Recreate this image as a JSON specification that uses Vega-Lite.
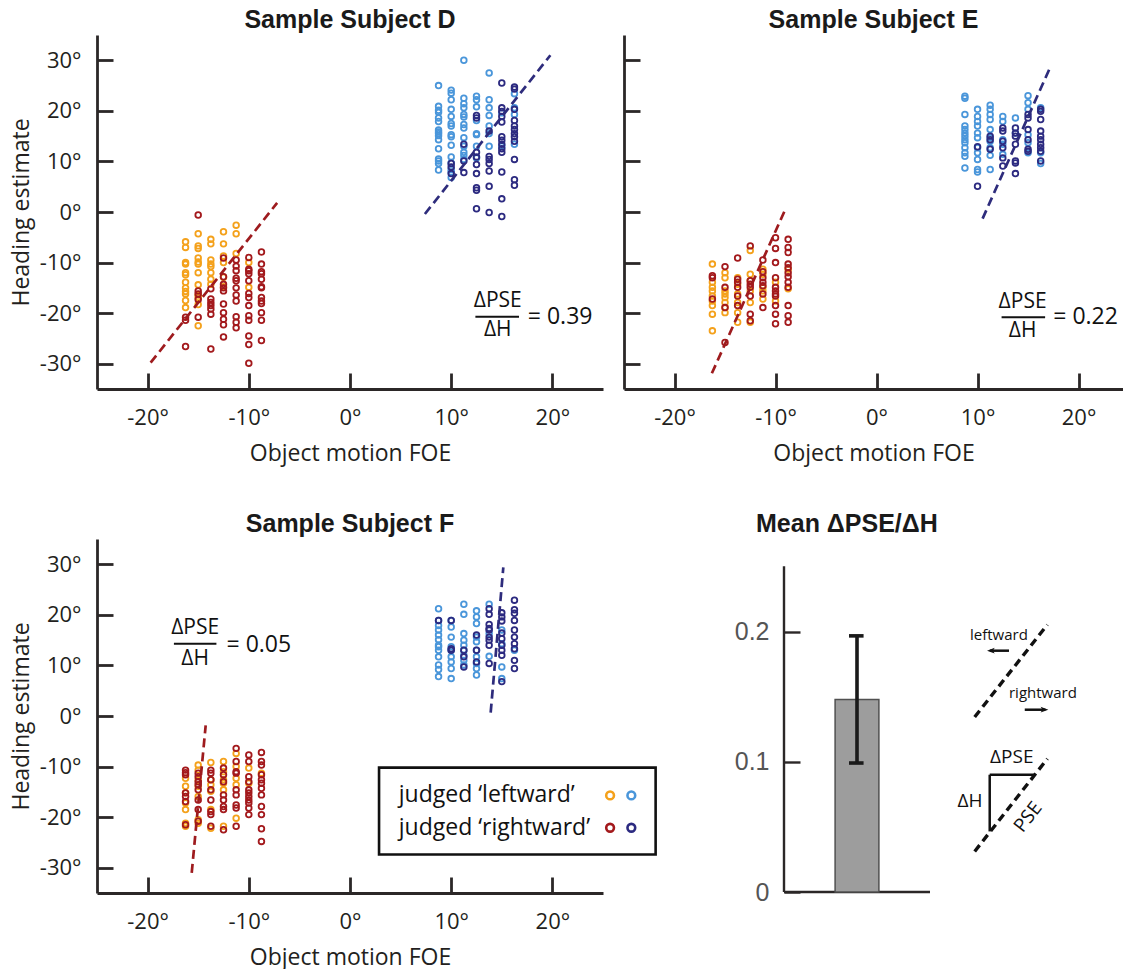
{
"$schema": "https://vega.github.io/schema/vega-lite/v6.json",
"background": "white",
"padding": {"left": 10, "top": 8, "right": 0, "bottom": 0},
"config": {
  "view": {"stroke": null},
  "axis": {"grid": false, "domainColor": "#2b2727", "domainWidth": 2.8, "tickColor": "#2b2727", "tickWidth": 2.8, "tickSize": -16, "labelFont": "Open Sans", "labelFontSize": 22, "labelColor": "#231f20", "titleFont": "Open Sans", "titleFontSize": 23, "titleFontWeight": "normal", "titleColor": "#231f20", "labelPadding": 32, "labelFlush": false},
  "axisX": {"labelPadding": 34, "titlePadding": 14},
  "axisY": {"titlePadding": 6},
  "title": {"font": "Liberation Sans", "fontSize": 25, "fontWeight": "bold", "color": "#1a1a1a", "frame": "group", "offset": 2, "baseline": "alphabetic"}
},
"datasets": {
  "pts": [
    {"p":"D","g":"lo","x":-16.25,"y":-5.9},{"p":"D","g":"lo","x":-16.25,"y":-7.0},{"p":"D","g":"lo","x":-16.25,"y":-10.0},{"p":"D","g":"lo","x":-16.25,"y":-10.3},{"p":"D","g":"lo","x":-16.25,"y":-12.0},{"p":"D","g":"lo","x":-16.25,"y":-12.4},{"p":"D","g":"lo","x":-16.25,"y":-13.9},{"p":"D","g":"lo","x":-16.25,"y":-15.0},{"p":"D","g":"lo","x":-16.25,"y":-15.7},{"p":"D","g":"lo","x":-16.25,"y":-16.2},{"p":"D","g":"lo","x":-16.25,"y":-17.5},{"p":"D","g":"lo","x":-16.25,"y":-18.9},
    {"p":"D","g":"lo","x":-15,"y":-4.3},{"p":"D","g":"lo","x":-15,"y":-6.7},{"p":"D","g":"lo","x":-15,"y":-7.2},{"p":"D","g":"lo","x":-15,"y":-9.1},{"p":"D","g":"lo","x":-15,"y":-9.9},{"p":"D","g":"lo","x":-15,"y":-10.3},{"p":"D","g":"lo","x":-15,"y":-12.0},{"p":"D","g":"lo","x":-15,"y":-14.4},{"p":"D","g":"lo","x":-15,"y":-16.4},{"p":"D","g":"lo","x":-15,"y":-16.9},{"p":"D","g":"lo","x":-15,"y":-18.3},{"p":"D","g":"lo","x":-15,"y":-22.5},
    {"p":"D","g":"lo","x":-13.75,"y":-5.4},{"p":"D","g":"lo","x":-13.75,"y":-6.3},{"p":"D","g":"lo","x":-13.75,"y":-9.5},{"p":"D","g":"lo","x":-13.75,"y":-10.3},{"p":"D","g":"lo","x":-13.75,"y":-10.8},{"p":"D","g":"lo","x":-13.75,"y":-12.0},{"p":"D","g":"lo","x":-13.75,"y":-13.3},{"p":"D","g":"lo","x":-13.75,"y":-14.3},
    {"p":"D","g":"lo","x":-12.5,"y":-3.9},{"p":"D","g":"lo","x":-12.5,"y":-6.3},{"p":"D","g":"lo","x":-12.5,"y":-8.7},{"p":"D","g":"lo","x":-12.5,"y":-10.0},{"p":"D","g":"lo","x":-12.5,"y":-12.9},{"p":"D","g":"lo","x":-12.5,"y":-14.8},
    {"p":"D","g":"lo","x":-11.25,"y":-2.6},{"p":"D","g":"lo","x":-11.25,"y":-4.3},{"p":"D","g":"lo","x":-11.25,"y":-8.2},
    {"p":"D","g":"lo","x":-10,"y":-10.0},{"p":"D","g":"lo","x":-10,"y":-14.9},
    {"p":"D","g":"ro","x":-16.25,"y":-20.8},{"p":"D","g":"ro","x":-16.25,"y":-21.4},{"p":"D","g":"ro","x":-16.25,"y":-26.6},
    {"p":"D","g":"ro","x":-15,"y":-0.6},{"p":"D","g":"ro","x":-15,"y":-15.6},{"p":"D","g":"ro","x":-15,"y":-16.2},{"p":"D","g":"ro","x":-15,"y":-17.3},{"p":"D","g":"ro","x":-15,"y":-20.8},
    {"p":"D","g":"ro","x":-13.75,"y":-15.2},{"p":"D","g":"ro","x":-13.75,"y":-17.2},{"p":"D","g":"ro","x":-13.75,"y":-17.9},{"p":"D","g":"ro","x":-13.75,"y":-18.5},{"p":"D","g":"ro","x":-13.75,"y":-19.2},{"p":"D","g":"ro","x":-13.75,"y":-20.2},{"p":"D","g":"ro","x":-13.75,"y":-27.1},
    {"p":"D","g":"ro","x":-12.5,"y":-9.1},{"p":"D","g":"ro","x":-12.5,"y":-12.8},{"p":"D","g":"ro","x":-12.5,"y":-14.3},{"p":"D","g":"ro","x":-12.5,"y":-15.0},{"p":"D","g":"ro","x":-12.5,"y":-15.6},{"p":"D","g":"ro","x":-12.5,"y":-18.2},{"p":"D","g":"ro","x":-12.5,"y":-19.9},{"p":"D","g":"ro","x":-12.5,"y":-21.2},{"p":"D","g":"ro","x":-12.5,"y":-22.3},{"p":"D","g":"ro","x":-12.5,"y":-24.7},
    {"p":"D","g":"ro","x":-11.25,"y":-9.5},{"p":"D","g":"ro","x":-11.25,"y":-10.7},{"p":"D","g":"ro","x":-11.25,"y":-11.6},{"p":"D","g":"ro","x":-11.25,"y":-13.1},{"p":"D","g":"ro","x":-11.25,"y":-13.6},{"p":"D","g":"ro","x":-11.25,"y":-15.0},{"p":"D","g":"ro","x":-11.25,"y":-16.4},{"p":"D","g":"ro","x":-11.25,"y":-17.6},{"p":"D","g":"ro","x":-11.25,"y":-20.7},{"p":"D","g":"ro","x":-11.25,"y":-21.8},{"p":"D","g":"ro","x":-11.25,"y":-22.9},
    {"p":"D","g":"ro","x":-10,"y":-9.0},{"p":"D","g":"ro","x":-10,"y":-11.3},{"p":"D","g":"ro","x":-10,"y":-11.6},{"p":"D","g":"ro","x":-10,"y":-12.2},{"p":"D","g":"ro","x":-10,"y":-13.6},{"p":"D","g":"ro","x":-10,"y":-16.1},{"p":"D","g":"ro","x":-10,"y":-16.9},{"p":"D","g":"ro","x":-10,"y":-18.5},{"p":"D","g":"ro","x":-10,"y":-20.5},{"p":"D","g":"ro","x":-10,"y":-21.4},{"p":"D","g":"ro","x":-10,"y":-24.5},{"p":"D","g":"ro","x":-10,"y":-26.2},{"p":"D","g":"ro","x":-10,"y":-29.9},
    {"p":"D","g":"ro","x":-8.75,"y":-7.9},{"p":"D","g":"ro","x":-8.75,"y":-10.3},{"p":"D","g":"ro","x":-8.75,"y":-11.8},{"p":"D","g":"ro","x":-8.75,"y":-12.2},{"p":"D","g":"ro","x":-8.75,"y":-13.3},{"p":"D","g":"ro","x":-8.75,"y":-14.8},{"p":"D","g":"ro","x":-8.75,"y":-15.0},{"p":"D","g":"ro","x":-8.75,"y":-16.9},{"p":"D","g":"ro","x":-8.75,"y":-17.6},{"p":"D","g":"ro","x":-8.75,"y":-18.1},{"p":"D","g":"ro","x":-8.75,"y":-19.9},{"p":"D","g":"ro","x":-8.75,"y":-21.4},{"p":"D","g":"ro","x":-8.75,"y":-25.4},
    {"p":"D","g":"lb","x":8.75,"y":25.0},{"p":"D","g":"lb","x":8.75,"y":20.9},{"p":"D","g":"lb","x":8.75,"y":20.1},{"p":"D","g":"lb","x":8.75,"y":19.7},{"p":"D","g":"lb","x":8.75,"y":18.6},{"p":"D","g":"lb","x":8.75,"y":17.9},{"p":"D","g":"lb","x":8.75,"y":16.2},{"p":"D","g":"lb","x":8.75,"y":15.8},{"p":"D","g":"lb","x":8.75,"y":15.5},{"p":"D","g":"lb","x":8.75,"y":15.1},{"p":"D","g":"lb","x":8.75,"y":14.3},{"p":"D","g":"lb","x":8.75,"y":12.5},{"p":"D","g":"lb","x":8.75,"y":10.5},{"p":"D","g":"lb","x":8.75,"y":10.1},{"p":"D","g":"lb","x":8.75,"y":9.6},{"p":"D","g":"lb","x":8.75,"y":8.3},
    {"p":"D","g":"lb","x":10,"y":24.1},{"p":"D","g":"lb","x":10,"y":23.5},{"p":"D","g":"lb","x":10,"y":22.2},{"p":"D","g":"lb","x":10,"y":20.3},{"p":"D","g":"lb","x":10,"y":18.9},{"p":"D","g":"lb","x":10,"y":17.5},{"p":"D","g":"lb","x":10,"y":17.0},{"p":"D","g":"lb","x":10,"y":15.3},{"p":"D","g":"lb","x":10,"y":14.9},{"p":"D","g":"lb","x":10,"y":13.2},{"p":"D","g":"lb","x":10,"y":10.9},{"p":"D","g":"lb","x":10,"y":9.7},{"p":"D","g":"lb","x":10,"y":8.4},{"p":"D","g":"lb","x":10,"y":7.9},{"p":"D","g":"lb","x":10,"y":6.8},
    {"p":"D","g":"lb","x":11.25,"y":30.0},{"p":"D","g":"lb","x":11.25,"y":22.5},{"p":"D","g":"lb","x":11.25,"y":21.4},{"p":"D","g":"lb","x":11.25,"y":20.6},{"p":"D","g":"lb","x":11.25,"y":19.3},{"p":"D","g":"lb","x":11.25,"y":18.8},{"p":"D","g":"lb","x":11.25,"y":17.3},{"p":"D","g":"lb","x":11.25,"y":16.6},{"p":"D","g":"lb","x":11.25,"y":14.7},{"p":"D","g":"lb","x":11.25,"y":13.0},{"p":"D","g":"lb","x":11.25,"y":11.8},{"p":"D","g":"lb","x":11.25,"y":11.2},{"p":"D","g":"lb","x":11.25,"y":10.4},
    {"p":"D","g":"lb","x":12.5,"y":22.9},{"p":"D","g":"lb","x":12.5,"y":22.2},{"p":"D","g":"lb","x":12.5,"y":20.8},{"p":"D","g":"lb","x":12.5,"y":18.1},{"p":"D","g":"lb","x":12.5,"y":15.5},{"p":"D","g":"lb","x":12.5,"y":15.3},{"p":"D","g":"lb","x":12.5,"y":13.0},{"p":"D","g":"lb","x":12.5,"y":10.7},
    {"p":"D","g":"lb","x":13.75,"y":27.5},{"p":"D","g":"lb","x":13.75,"y":22.2},{"p":"D","g":"lb","x":13.75,"y":20.6},{"p":"D","g":"lb","x":13.75,"y":19.1},{"p":"D","g":"lb","x":13.75,"y":17.0},{"p":"D","g":"lb","x":13.75,"y":15.5},{"p":"D","g":"lb","x":13.75,"y":13.0},
    {"p":"D","g":"lb","x":15,"y":19.6},{"p":"D","g":"lb","x":15,"y":13.0},
    {"p":"D","g":"lb","x":16.25,"y":23.4},{"p":"D","g":"lb","x":16.25,"y":20.6},{"p":"D","g":"lb","x":16.25,"y":19.3},{"p":"D","g":"lb","x":16.25,"y":13.4},
    {"p":"D","g":"rb","x":10,"y":9.6},{"p":"D","g":"rb","x":10,"y":8.9},{"p":"D","g":"rb","x":10,"y":7.6},
    {"p":"D","g":"rb","x":11.25,"y":13.4},{"p":"D","g":"rb","x":11.25,"y":10.1},{"p":"D","g":"rb","x":11.25,"y":7.8},
    {"p":"D","g":"rb","x":12.5,"y":19.1},{"p":"D","g":"rb","x":12.5,"y":18.6},{"p":"D","g":"rb","x":12.5,"y":11.8},{"p":"D","g":"rb","x":12.5,"y":10.9},{"p":"D","g":"rb","x":12.5,"y":9.4},{"p":"D","g":"rb","x":12.5,"y":7.6},{"p":"D","g":"rb","x":12.5,"y":4.8},{"p":"D","g":"rb","x":12.5,"y":4.3},{"p":"D","g":"rb","x":12.5,"y":0.65},
    {"p":"D","g":"rb","x":13.75,"y":16.0},{"p":"D","g":"rb","x":13.75,"y":11.0},{"p":"D","g":"rb","x":13.75,"y":10.4},{"p":"D","g":"rb","x":13.75,"y":9.6},{"p":"D","g":"rb","x":13.75,"y":8.1},{"p":"D","g":"rb","x":13.75,"y":5.1},{"p":"D","g":"rb","x":13.75,"y":-0.1},
    {"p":"D","g":"rb","x":15,"y":25.5},{"p":"D","g":"rb","x":15,"y":20.6},{"p":"D","g":"rb","x":15,"y":19.9},{"p":"D","g":"rb","x":15,"y":18.9},{"p":"D","g":"rb","x":15,"y":17.8},{"p":"D","g":"rb","x":15,"y":14.9},{"p":"D","g":"rb","x":15,"y":14.2},{"p":"D","g":"rb","x":15,"y":13.4},{"p":"D","g":"rb","x":15,"y":12.5},{"p":"D","g":"rb","x":15,"y":11.8},{"p":"D","g":"rb","x":15,"y":7.9},{"p":"D","g":"rb","x":15,"y":2.6},{"p":"D","g":"rb","x":15,"y":-0.9},
    {"p":"D","g":"rb","x":16.25,"y":24.7},{"p":"D","g":"rb","x":16.25,"y":24.3},{"p":"D","g":"rb","x":16.25,"y":20.3},{"p":"D","g":"rb","x":16.25,"y":18.1},{"p":"D","g":"rb","x":16.25,"y":17.0},{"p":"D","g":"rb","x":16.25,"y":16.3},{"p":"D","g":"rb","x":16.25,"y":15.5},{"p":"D","g":"rb","x":16.25,"y":14.9},{"p":"D","g":"rb","x":16.25,"y":14.0},{"p":"D","g":"rb","x":16.25,"y":10.4},{"p":"D","g":"rb","x":16.25,"y":6.4},{"p":"D","g":"rb","x":16.25,"y":5.3},

    {"p":"E","g":"lo","x":-16.25,"y":-10.3},{"p":"E","g":"lo","x":-16.25,"y":-13.9},{"p":"E","g":"lo","x":-16.25,"y":-14.9},{"p":"E","g":"lo","x":-16.25,"y":-15.6},{"p":"E","g":"lo","x":-16.25,"y":-16.6},{"p":"E","g":"lo","x":-16.25,"y":-17.6},{"p":"E","g":"lo","x":-16.25,"y":-18.5},{"p":"E","g":"lo","x":-16.25,"y":-20.2},{"p":"E","g":"lo","x":-16.25,"y":-23.5},
    {"p":"E","g":"lo","x":-15,"y":-12.0},{"p":"E","g":"lo","x":-15,"y":-13.0},{"p":"E","g":"lo","x":-15,"y":-15.6},{"p":"E","g":"lo","x":-15,"y":-16.2},{"p":"E","g":"lo","x":-15,"y":-16.9},{"p":"E","g":"lo","x":-15,"y":-17.9},{"p":"E","g":"lo","x":-15,"y":-18.9},{"p":"E","g":"lo","x":-15,"y":-19.9},
    {"p":"E","g":"lo","x":-13.75,"y":-13.0},{"p":"E","g":"lo","x":-13.75,"y":-14.3},{"p":"E","g":"lo","x":-13.75,"y":-16.2},{"p":"E","g":"lo","x":-13.75,"y":-17.9},{"p":"E","g":"lo","x":-13.75,"y":-19.9},{"p":"E","g":"lo","x":-13.75,"y":-21.8},
    {"p":"E","g":"lo","x":-12.5,"y":-7.6},{"p":"E","g":"lo","x":-12.5,"y":-12.3},{"p":"E","g":"lo","x":-12.5,"y":-13.6},{"p":"E","g":"lo","x":-12.5,"y":-15.6},{"p":"E","g":"lo","x":-12.5,"y":-17.9},{"p":"E","g":"lo","x":-12.5,"y":-21.8},
    {"p":"E","g":"lo","x":-11.25,"y":-11.3},{"p":"E","g":"lo","x":-11.25,"y":-12.3},{"p":"E","g":"lo","x":-11.25,"y":-14.9},{"p":"E","g":"lo","x":-11.25,"y":-15.6},{"p":"E","g":"lo","x":-11.25,"y":-17.2},
    {"p":"E","g":"lo","x":-10,"y":-13.9},{"p":"E","g":"lo","x":-10,"y":-17.6},
    {"p":"E","g":"lo","x":-8.75,"y":-11.3},{"p":"E","g":"lo","x":-8.75,"y":-15.2},
    {"p":"E","g":"ro","x":-16.25,"y":-12.6},{"p":"E","g":"ro","x":-16.25,"y":-13.0},{"p":"E","g":"ro","x":-16.25,"y":-17.2},
    {"p":"E","g":"ro","x":-15,"y":-10.8},{"p":"E","g":"ro","x":-15,"y":-14.9},{"p":"E","g":"ro","x":-15,"y":-18.9},{"p":"E","g":"ro","x":-15,"y":-25.8},
    {"p":"E","g":"ro","x":-13.75,"y":-9.1},{"p":"E","g":"ro","x":-13.75,"y":-13.3},{"p":"E","g":"ro","x":-13.75,"y":-13.9},{"p":"E","g":"ro","x":-13.75,"y":-14.9},{"p":"E","g":"ro","x":-13.75,"y":-16.6},{"p":"E","g":"ro","x":-13.75,"y":-18.5},
    {"p":"E","g":"ro","x":-12.5,"y":-6.7},{"p":"E","g":"ro","x":-12.5,"y":-13.6},{"p":"E","g":"ro","x":-12.5,"y":-14.3},{"p":"E","g":"ro","x":-12.5,"y":-14.9},{"p":"E","g":"ro","x":-12.5,"y":-16.6},{"p":"E","g":"ro","x":-12.5,"y":-20.2},{"p":"E","g":"ro","x":-12.5,"y":-21.5},
    {"p":"E","g":"ro","x":-11.25,"y":-9.5},{"p":"E","g":"ro","x":-11.25,"y":-11.8},{"p":"E","g":"ro","x":-11.25,"y":-13.0},{"p":"E","g":"ro","x":-11.25,"y":-13.9},{"p":"E","g":"ro","x":-11.25,"y":-14.6},{"p":"E","g":"ro","x":-11.25,"y":-16.2},{"p":"E","g":"ro","x":-11.25,"y":-18.9},
    {"p":"E","g":"ro","x":-10,"y":-5.1},{"p":"E","g":"ro","x":-10,"y":-7.2},{"p":"E","g":"ro","x":-10,"y":-10.0},{"p":"E","g":"ro","x":-10,"y":-13.0},{"p":"E","g":"ro","x":-10,"y":-14.9},{"p":"E","g":"ro","x":-10,"y":-15.6},{"p":"E","g":"ro","x":-10,"y":-16.2},{"p":"E","g":"ro","x":-10,"y":-16.6},{"p":"E","g":"ro","x":-10,"y":-18.5},{"p":"E","g":"ro","x":-10,"y":-20.2},{"p":"E","g":"ro","x":-10,"y":-22.1},
    {"p":"E","g":"ro","x":-8.75,"y":-5.4},{"p":"E","g":"ro","x":-8.75,"y":-7.0},{"p":"E","g":"ro","x":-8.75,"y":-8.0},{"p":"E","g":"ro","x":-8.75,"y":-10.3},{"p":"E","g":"ro","x":-8.75,"y":-11.0},{"p":"E","g":"ro","x":-8.75,"y":-12.0},{"p":"E","g":"ro","x":-8.75,"y":-12.8},{"p":"E","g":"ro","x":-8.75,"y":-13.9},{"p":"E","g":"ro","x":-8.75,"y":-14.9},{"p":"E","g":"ro","x":-8.75,"y":-18.5},{"p":"E","g":"ro","x":-8.75,"y":-20.5},{"p":"E","g":"ro","x":-8.75,"y":-21.8},
    {"p":"E","g":"lb","x":8.75,"y":22.9},{"p":"E","g":"lb","x":8.75,"y":22.5},{"p":"E","g":"lb","x":8.75,"y":19.3},{"p":"E","g":"lb","x":8.75,"y":17.0},{"p":"E","g":"lb","x":8.75,"y":16.3},{"p":"E","g":"lb","x":8.75,"y":15.6},{"p":"E","g":"lb","x":8.75,"y":15.0},{"p":"E","g":"lb","x":8.75,"y":14.3},{"p":"E","g":"lb","x":8.75,"y":13.7},{"p":"E","g":"lb","x":8.75,"y":12.7},{"p":"E","g":"lb","x":8.75,"y":11.7},{"p":"E","g":"lb","x":8.75,"y":11.0},{"p":"E","g":"lb","x":8.75,"y":8.7},
    {"p":"E","g":"lb","x":10,"y":20.3},{"p":"E","g":"lb","x":10,"y":18.9},{"p":"E","g":"lb","x":10,"y":17.9},{"p":"E","g":"lb","x":10,"y":17.0},{"p":"E","g":"lb","x":10,"y":15.6},{"p":"E","g":"lb","x":10,"y":14.7},{"p":"E","g":"lb","x":10,"y":12.7},{"p":"E","g":"lb","x":10,"y":11.7},{"p":"E","g":"lb","x":10,"y":10.4},{"p":"E","g":"lb","x":10,"y":8.4},{"p":"E","g":"lb","x":10,"y":7.9},
    {"p":"E","g":"lb","x":11.25,"y":21.1},{"p":"E","g":"lb","x":11.25,"y":20.3},{"p":"E","g":"lb","x":11.25,"y":19.3},{"p":"E","g":"lb","x":11.25,"y":18.3},{"p":"E","g":"lb","x":11.25,"y":16.3},{"p":"E","g":"lb","x":11.25,"y":14.7},{"p":"E","g":"lb","x":11.25,"y":14.0},{"p":"E","g":"lb","x":11.25,"y":12.7},{"p":"E","g":"lb","x":11.25,"y":11.2},{"p":"E","g":"lb","x":11.25,"y":8.4},
    {"p":"E","g":"lb","x":12.5,"y":18.9},{"p":"E","g":"lb","x":12.5,"y":17.9},{"p":"E","g":"lb","x":12.5,"y":14.3},{"p":"E","g":"lb","x":12.5,"y":13.4},{"p":"E","g":"lb","x":12.5,"y":11.4},
    {"p":"E","g":"lb","x":13.75,"y":18.6},{"p":"E","g":"lb","x":13.75,"y":15.6},
    {"p":"E","g":"lb","x":15,"y":23.0},{"p":"E","g":"lb","x":15,"y":21.6},{"p":"E","g":"lb","x":15,"y":20.3},{"p":"E","g":"lb","x":15,"y":15.3},{"p":"E","g":"lb","x":15,"y":13.7},{"p":"E","g":"lb","x":15,"y":11.7},
    {"p":"E","g":"lb","x":16.25,"y":20.6},{"p":"E","g":"lb","x":16.25,"y":11.7},{"p":"E","g":"lb","x":16.25,"y":9.6},
    {"p":"E","g":"rb","x":10,"y":12.9},{"p":"E","g":"rb","x":10,"y":5.1},
    {"p":"E","g":"rb","x":11.25,"y":15.0},{"p":"E","g":"rb","x":11.25,"y":14.3},{"p":"E","g":"rb","x":11.25,"y":12.4},
    {"p":"E","g":"rb","x":12.5,"y":16.6},{"p":"E","g":"rb","x":12.5,"y":16.0},{"p":"E","g":"rb","x":12.5,"y":14.0},{"p":"E","g":"rb","x":12.5,"y":12.7},{"p":"E","g":"rb","x":12.5,"y":10.7},{"p":"E","g":"rb","x":12.5,"y":9.1},
    {"p":"E","g":"rb","x":13.75,"y":16.6},{"p":"E","g":"rb","x":13.75,"y":15.6},{"p":"E","g":"rb","x":13.75,"y":15.0},{"p":"E","g":"rb","x":13.75,"y":13.4},{"p":"E","g":"rb","x":13.75,"y":10.1},{"p":"E","g":"rb","x":13.75,"y":9.7},{"p":"E","g":"rb","x":13.75,"y":7.6},
    {"p":"E","g":"rb","x":15,"y":19.3},{"p":"E","g":"rb","x":15,"y":18.6},{"p":"E","g":"rb","x":15,"y":16.3},{"p":"E","g":"rb","x":15,"y":14.3},{"p":"E","g":"rb","x":15,"y":12.4},{"p":"E","g":"rb","x":15,"y":12.0},
    {"p":"E","g":"rb","x":16.25,"y":20.3},{"p":"E","g":"rb","x":16.25,"y":19.9},{"p":"E","g":"rb","x":16.25,"y":18.3},{"p":"E","g":"rb","x":16.25,"y":16.0},{"p":"E","g":"rb","x":16.25,"y":15.0},{"p":"E","g":"rb","x":16.25,"y":14.3},{"p":"E","g":"rb","x":16.25,"y":13.4},{"p":"E","g":"rb","x":16.25,"y":12.7},{"p":"E","g":"rb","x":16.25,"y":12.0},{"p":"E","g":"rb","x":16.25,"y":10.1},

    {"p":"F","g":"lo","x":-16.25,"y":-12.3},{"p":"F","g":"lo","x":-16.25,"y":-13.9},{"p":"F","g":"lo","x":-16.25,"y":-15.2},{"p":"F","g":"lo","x":-16.25,"y":-17.2},{"p":"F","g":"lo","x":-16.25,"y":-18.5},{"p":"F","g":"lo","x":-16.25,"y":-21.2},{"p":"F","g":"lo","x":-16.25,"y":-21.8},
    {"p":"F","g":"lo","x":-15,"y":-9.7},{"p":"F","g":"lo","x":-15,"y":-10.7},{"p":"F","g":"lo","x":-15,"y":-12.6},{"p":"F","g":"lo","x":-15,"y":-13.9},{"p":"F","g":"lo","x":-15,"y":-15.9},{"p":"F","g":"lo","x":-15,"y":-20.5},{"p":"F","g":"lo","x":-15,"y":-21.2},
    {"p":"F","g":"lo","x":-13.75,"y":-9.2},{"p":"F","g":"lo","x":-13.75,"y":-12.6},{"p":"F","g":"lo","x":-13.75,"y":-13.6},{"p":"F","g":"lo","x":-13.75,"y":-14.9},{"p":"F","g":"lo","x":-13.75,"y":-18.5},{"p":"F","g":"lo","x":-13.75,"y":-22.2},
    {"p":"F","g":"lo","x":-12.5,"y":-9.0},{"p":"F","g":"lo","x":-12.5,"y":-11.0},{"p":"F","g":"lo","x":-12.5,"y":-12.6},{"p":"F","g":"lo","x":-12.5,"y":-13.3},{"p":"F","g":"lo","x":-12.5,"y":-14.6},{"p":"F","g":"lo","x":-12.5,"y":-21.8},
    {"p":"F","g":"lo","x":-11.25,"y":-7.4},{"p":"F","g":"lo","x":-11.25,"y":-10.0},{"p":"F","g":"lo","x":-11.25,"y":-12.3},{"p":"F","g":"lo","x":-11.25,"y":-13.6},{"p":"F","g":"lo","x":-11.25,"y":-20.2},
    {"p":"F","g":"lo","x":-10,"y":-10.3},{"p":"F","g":"lo","x":-10,"y":-13.3},
    {"p":"F","g":"lo","x":-8.75,"y":-11.3},
    {"p":"F","g":"ro","x":-16.25,"y":-10.7},{"p":"F","g":"ro","x":-16.25,"y":-11.2},{"p":"F","g":"ro","x":-16.25,"y":-11.6},{"p":"F","g":"ro","x":-16.25,"y":-15.2},{"p":"F","g":"ro","x":-16.25,"y":-15.9},{"p":"F","g":"ro","x":-16.25,"y":-16.9},{"p":"F","g":"ro","x":-16.25,"y":-21.5},
    {"p":"F","g":"ro","x":-15,"y":-11.3},{"p":"F","g":"ro","x":-15,"y":-12.0},{"p":"F","g":"ro","x":-15,"y":-13.0},{"p":"F","g":"ro","x":-15,"y":-13.6},{"p":"F","g":"ro","x":-15,"y":-14.6},{"p":"F","g":"ro","x":-15,"y":-16.6},{"p":"F","g":"ro","x":-15,"y":-18.5},{"p":"F","g":"ro","x":-15,"y":-20.8},
    {"p":"F","g":"ro","x":-13.75,"y":-10.7},{"p":"F","g":"ro","x":-13.75,"y":-11.3},{"p":"F","g":"ro","x":-13.75,"y":-12.6},{"p":"F","g":"ro","x":-13.75,"y":-14.6},{"p":"F","g":"ro","x":-13.75,"y":-16.6},{"p":"F","g":"ro","x":-13.75,"y":-18.9},{"p":"F","g":"ro","x":-13.75,"y":-19.5},{"p":"F","g":"ro","x":-13.75,"y":-21.8},
    {"p":"F","g":"ro","x":-12.5,"y":-10.3},{"p":"F","g":"ro","x":-12.5,"y":-11.6},{"p":"F","g":"ro","x":-12.5,"y":-13.0},{"p":"F","g":"ro","x":-12.5,"y":-15.6},{"p":"F","g":"ro","x":-12.5,"y":-16.6},{"p":"F","g":"ro","x":-12.5,"y":-17.9},{"p":"F","g":"ro","x":-12.5,"y":-18.5},{"p":"F","g":"ro","x":-12.5,"y":-22.5},
    {"p":"F","g":"ro","x":-11.25,"y":-6.4},{"p":"F","g":"ro","x":-11.25,"y":-9.0},{"p":"F","g":"ro","x":-11.25,"y":-11.0},{"p":"F","g":"ro","x":-11.25,"y":-11.3},{"p":"F","g":"ro","x":-11.25,"y":-14.6},{"p":"F","g":"ro","x":-11.25,"y":-15.6},{"p":"F","g":"ro","x":-11.25,"y":-17.6},{"p":"F","g":"ro","x":-11.25,"y":-18.2},{"p":"F","g":"ro","x":-11.25,"y":-21.8},
    {"p":"F","g":"ro","x":-10,"y":-7.7},{"p":"F","g":"ro","x":-10,"y":-9.0},{"p":"F","g":"ro","x":-10,"y":-12.0},{"p":"F","g":"ro","x":-10,"y":-13.0},{"p":"F","g":"ro","x":-10,"y":-14.6},{"p":"F","g":"ro","x":-10,"y":-15.2},{"p":"F","g":"ro","x":-10,"y":-15.9},{"p":"F","g":"ro","x":-10,"y":-16.6},{"p":"F","g":"ro","x":-10,"y":-17.2},{"p":"F","g":"ro","x":-10,"y":-18.2},{"p":"F","g":"ro","x":-10,"y":-19.5},
    {"p":"F","g":"ro","x":-8.75,"y":-7.2},{"p":"F","g":"ro","x":-8.75,"y":-9.0},{"p":"F","g":"ro","x":-8.75,"y":-9.7},{"p":"F","g":"ro","x":-8.75,"y":-11.6},{"p":"F","g":"ro","x":-8.75,"y":-12.6},{"p":"F","g":"ro","x":-8.75,"y":-13.3},{"p":"F","g":"ro","x":-8.75,"y":-14.3},{"p":"F","g":"ro","x":-8.75,"y":-15.6},{"p":"F","g":"ro","x":-8.75,"y":-17.9},{"p":"F","g":"ro","x":-8.75,"y":-19.5},{"p":"F","g":"ro","x":-8.75,"y":-22.3},{"p":"F","g":"ro","x":-8.75,"y":-24.8},
    {"p":"F","g":"lb","x":8.75,"y":21.2},{"p":"F","g":"lb","x":8.75,"y":18.9},{"p":"F","g":"lb","x":8.75,"y":17.9},{"p":"F","g":"lb","x":8.75,"y":17.0},{"p":"F","g":"lb","x":8.75,"y":16.0},{"p":"F","g":"lb","x":8.75,"y":15.1},{"p":"F","g":"lb","x":8.75,"y":14.0},{"p":"F","g":"lb","x":8.75,"y":13.7},{"p":"F","g":"lb","x":8.75,"y":13.0},{"p":"F","g":"lb","x":8.75,"y":11.7},{"p":"F","g":"lb","x":8.75,"y":10.1},{"p":"F","g":"lb","x":8.75,"y":9.2},{"p":"F","g":"lb","x":8.75,"y":7.8},
    {"p":"F","g":"lb","x":10,"y":18.9},{"p":"F","g":"lb","x":10,"y":17.6},{"p":"F","g":"lb","x":10,"y":15.6},{"p":"F","g":"lb","x":10,"y":13.7},{"p":"F","g":"lb","x":10,"y":13.0},{"p":"F","g":"lb","x":10,"y":11.7},{"p":"F","g":"lb","x":10,"y":10.7},{"p":"F","g":"lb","x":10,"y":9.4},{"p":"F","g":"lb","x":10,"y":7.4},
    {"p":"F","g":"lb","x":11.25,"y":22.1},{"p":"F","g":"lb","x":11.25,"y":20.1},{"p":"F","g":"lb","x":11.25,"y":16.3},{"p":"F","g":"lb","x":11.25,"y":15.0},{"p":"F","g":"lb","x":11.25,"y":14.0},{"p":"F","g":"lb","x":11.25,"y":13.0},{"p":"F","g":"lb","x":11.25,"y":12.0},{"p":"F","g":"lb","x":11.25,"y":11.0},{"p":"F","g":"lb","x":11.25,"y":10.1},
    {"p":"F","g":"lb","x":12.5,"y":20.8},{"p":"F","g":"lb","x":12.5,"y":19.6},{"p":"F","g":"lb","x":12.5,"y":18.3},{"p":"F","g":"lb","x":12.5,"y":15.6},{"p":"F","g":"lb","x":12.5,"y":14.7},{"p":"F","g":"lb","x":12.5,"y":13.0},{"p":"F","g":"lb","x":12.5,"y":11.7},{"p":"F","g":"lb","x":12.5,"y":10.4},{"p":"F","g":"lb","x":12.5,"y":9.4},{"p":"F","g":"lb","x":12.5,"y":8.1},
    {"p":"F","g":"lb","x":13.75,"y":22.1},{"p":"F","g":"lb","x":13.75,"y":16.3},{"p":"F","g":"lb","x":13.75,"y":11.8},
    {"p":"F","g":"lb","x":15,"y":17.0},{"p":"F","g":"lb","x":15,"y":14.3},{"p":"F","g":"lb","x":15,"y":9.7},{"p":"F","g":"lb","x":15,"y":7.4},
    {"p":"F","g":"lb","x":16.25,"y":13.0},
    {"p":"F","g":"rb","x":8.75,"y":18.9},
    {"p":"F","g":"rb","x":10,"y":18.9},{"p":"F","g":"rb","x":10,"y":13.3},{"p":"F","g":"rb","x":10,"y":13.0},
    {"p":"F","g":"rb","x":11.25,"y":13.0},{"p":"F","g":"rb","x":11.25,"y":11.7},{"p":"F","g":"rb","x":11.25,"y":9.7},
    {"p":"F","g":"rb","x":12.5,"y":16.0},{"p":"F","g":"rb","x":12.5,"y":13.0},{"p":"F","g":"rb","x":12.5,"y":10.7},
    {"p":"F","g":"rb","x":13.75,"y":21.2},{"p":"F","g":"rb","x":13.75,"y":20.1},{"p":"F","g":"rb","x":13.75,"y":18.1},{"p":"F","g":"rb","x":13.75,"y":17.3},{"p":"F","g":"rb","x":13.75,"y":17.0},{"p":"F","g":"rb","x":13.75,"y":15.6},{"p":"F","g":"rb","x":13.75,"y":15.0},{"p":"F","g":"rb","x":13.75,"y":14.0},{"p":"F","g":"rb","x":13.75,"y":10.4},
    {"p":"F","g":"rb","x":15,"y":20.4},{"p":"F","g":"rb","x":15,"y":19.6},{"p":"F","g":"rb","x":15,"y":18.8},{"p":"F","g":"rb","x":15,"y":16.4},{"p":"F","g":"rb","x":15,"y":15.3},{"p":"F","g":"rb","x":15,"y":14.0},{"p":"F","g":"rb","x":15,"y":13.0},{"p":"F","g":"rb","x":15,"y":12.0},{"p":"F","g":"rb","x":15,"y":6.8},
    {"p":"F","g":"rb","x":16.25,"y":22.9},{"p":"F","g":"rb","x":16.25,"y":21.0},{"p":"F","g":"rb","x":16.25,"y":20.3},{"p":"F","g":"rb","x":16.25,"y":18.9},{"p":"F","g":"rb","x":16.25,"y":17.0},{"p":"F","g":"rb","x":16.25,"y":15.6},{"p":"F","g":"rb","x":16.25,"y":14.3},{"p":"F","g":"rb","x":16.25,"y":13.3},{"p":"F","g":"rb","x":16.25,"y":11.0},{"p":"F","g":"rb","x":16.25,"y":9.4}
  ],
  "fits": [
    {"p":"D","g":"fl","x":-19.7,"y":-29.8,"x2":-7.2,"y2":1.8},
    {"p":"D","g":"fr","x":7.4,"y":-0.4,"x2":19.8,"y2":31.0},
    {"p":"E","g":"fl","x":-16.3,"y":-31.9,"x2":-9.1,"y2":0.2},
    {"p":"E","g":"fr","x":10.5,"y":-1.3,"x2":17.1,"y2":28.2},
    {"p":"F","g":"fl","x":-15.64,"y":-31.0,"x2":-14.26,"y2":-1.85},
    {"p":"F","g":"fr","x":13.9,"y":0.67,"x2":15.15,"y2":29.4}
  ],
  "frac": [
    {"p":"D","t":"ΔPSE","x":14.6,"y":-17.6},{"p":"D","t":"ΔH","x":14.6,"y":-23.4},
    {"p":"E","t":"ΔPSE","x":14.46,"y":-17.7},{"p":"E","t":"ΔH","x":14.46,"y":-23.6},
    {"p":"F","t":"ΔPSE","x":-15.3,"y":17.5},{"p":"F","t":"ΔH","x":-15.3,"y":11.3}
  ],
  "eq": [
    {"p":"D","t":"= 0.39","x":17.57,"y":-20.8},
    {"p":"E","t":"= 0.22","x":17.5,"y":-20.8},
    {"p":"F","t":"= 0.05","x":-12.2,"y":14.1}
  ],
  "fbar": [
    {"p":"D","x":12.39,"x2":16.7,"y":-20.7},
    {"p":"E","x":12.38,"x2":16.69,"y":-20.8},
    {"p":"F","x":-17.4,"x2":-13.2,"y":14.3}
  ],
  "legbox": [{"x":2.87,"x2":30.2,"y":-10.2,"y2":-27.4}],
  "legtext": [{"t":"judged  ‘leftward’","x":4.82,"y":-15.7},{"t":"judged ‘rightward’","x":4.82,"y":-22.1}],
  "legsym": [{"g":"lo","x":25.7,"y":-15.7},{"g":"lb","x":27.8,"y":-15.7},{"g":"ro","x":25.7,"y":-22.1},{"g":"rb","x":27.8,"y":-22.1}],
  "bax": [{"x":0,"x2":0,"y":0,"y2":0.2505},{"x":0,"x2":1.0,"y":0,"y2":0}],
  "bar": [{"x":0.35,"x2":0.65,"y":0,"y2":0.148}],
  "err": [{"x":0.5,"x2":0.5,"y":0.0992,"y2":0.197},{"x":0.445,"x2":0.545,"y":0.197,"y2":0.197},{"x":0.445,"x2":0.545,"y":0.0992,"y2":0.0992}],
  "dash": [{"x":1.306,"y":0.1346,"x2":1.804,"y2":0.2056},{"x":1.306,"y":0.0312,"x2":1.804,"y2":0.1025}],
  "solid": [{"x":1.41,"x2":1.541,"y":0.1856,"y2":0.1856},{"x":1.649,"x2":1.79,"y":0.1402,"y2":0.1402},{"x":1.409,"x2":1.409,"y":0.0466,"y2":0.0902},{"x":1.409,"x2":1.712,"y":0.0902,"y2":0.0902}],
  "heads": [{"s":"l","x":1.417,"y":0.1856},{"s":"r","x":1.784,"y":0.1402}],
  "dtextl": [{"t":"leftward","x":1.274,"y":0.198},{"t":"rightward","x":1.541,"y":0.1533}],
  "dtextc": [{"t":"ΔPSE","x":1.56,"y":0.1038},{"t":"ΔH","x":1.274,"y":0.0697}],
  "dtextr": [{"t":"PSE","x":1.671,"y":0.0577}]
},
"spacing": 47,
"vconcat": [
  {"spacing": 19, "hconcat": [
    {"width": 506, "height": 354, "title": {"text": "Sample Subject D"},
     "layer": [
      {"data": {"name": "pts"}, "transform": [{"filter": "datum.p === 'D'"}],
       "mark": {"type": "point", "filled": false, "size": 32, "strokeWidth": 1.8, "opacity": 1},
       "encoding": {
        "x": {"field": "x", "type": "quantitative", "scale": {"domain": [-25, 25], "nice": false, "zero": false}, "axis": {"values": [-20, -10, 0, 10, 20], "labelExpr": "datum.value + '°'", "title": "Object motion FOE"}},
        "y": {"field": "y", "type": "quantitative", "scale": {"domain": [-35, 35], "nice": false, "zero": false}, "axis": {"values": [-30, -20, -10, 0, 10, 20, 30], "labelExpr": "datum.value + '°'", "title": "Heading estimate"}},
        "color": {"field": "g", "type": "nominal", "scale": {"domain": ["lo","ro","lb","rb","fl","fr"], "range": ["#F4A11B","#A3191C","#4A96DA","#2C2A80","#9E1B1E","#2E2C7C"]}, "legend": null}}},
      {"data": {"name": "fits"}, "transform": [{"filter": "datum.p === 'D'"}],
       "mark": {"type": "rule", "strokeDash": [9, 5], "strokeWidth": 2.7},
       "encoding": {"x": {"field": "x", "type": "quantitative"}, "x2": {"field": "x2"}, "y": {"field": "y", "type": "quantitative"}, "y2": {"field": "y2"},
        "color": {"field": "g", "type": "nominal", "scale": {"domain": ["lo","ro","lb","rb","fl","fr"], "range": ["#F4A11B","#A3191C","#4A96DA","#2C2A80","#9E1B1E","#2E2C7C"]}, "legend": null}}},
      {"data": {"name": "frac"}, "transform": [{"filter": "datum.p === 'D'"}],
       "mark": {"type": "text", "align": "center", "baseline": "middle", "font": "Open Sans", "fontSize": 21, "color": "#111"},
       "encoding": {"x": {"field": "x", "type": "quantitative"}, "y": {"field": "y", "type": "quantitative"}, "text": {"field": "t"}}},
      {"data": {"name": "eq"}, "transform": [{"filter": "datum.p === 'D'"}],
       "mark": {"type": "text", "align": "left", "baseline": "middle", "font": "Open Sans", "fontSize": 23, "color": "#111"},
       "encoding": {"x": {"field": "x", "type": "quantitative"}, "y": {"field": "y", "type": "quantitative"}, "text": {"field": "t"}}},
      {"data": {"name": "fbar"}, "transform": [{"filter": "datum.p === 'D'"}],
       "mark": {"type": "rule", "strokeWidth": 2, "color": "#111"},
       "encoding": {"x": {"field": "x", "type": "quantitative"}, "x2": {"field": "x2"}, "y": {"field": "y", "type": "quantitative"}}}
     ]},
    {"width": 499, "height": 354, "title": {"text": "Sample Subject E"},
     "layer": [
      {"data": {"name": "pts"}, "transform": [{"filter": "datum.p === 'E'"}],
       "mark": {"type": "point", "filled": false, "size": 32, "strokeWidth": 1.8, "opacity": 1},
       "encoding": {
        "x": {"field": "x", "type": "quantitative", "scale": {"domain": [-25, 24.4], "nice": false, "zero": false}, "axis": {"values": [-20, -10, 0, 10, 20], "labelExpr": "datum.value + '°'", "title": "Object motion FOE"}},
        "y": {"field": "y", "type": "quantitative", "scale": {"domain": [-35, 35], "nice": false, "zero": false}, "axis": {"values": [-30, -20, -10, 0, 10, 20, 30], "labels": false, "title": ""}},
        "color": {"field": "g", "type": "nominal", "scale": {"domain": ["lo","ro","lb","rb","fl","fr"], "range": ["#F4A11B","#A3191C","#4A96DA","#2C2A80","#9E1B1E","#2E2C7C"]}, "legend": null}}},
      {"data": {"name": "fits"}, "transform": [{"filter": "datum.p === 'E'"}],
       "mark": {"type": "rule", "strokeDash": [9, 5], "strokeWidth": 2.7},
       "encoding": {"x": {"field": "x", "type": "quantitative"}, "x2": {"field": "x2"}, "y": {"field": "y", "type": "quantitative"}, "y2": {"field": "y2"},
        "color": {"field": "g", "type": "nominal", "scale": {"domain": ["lo","ro","lb","rb","fl","fr"], "range": ["#F4A11B","#A3191C","#4A96DA","#2C2A80","#9E1B1E","#2E2C7C"]}, "legend": null}}},
      {"data": {"name": "frac"}, "transform": [{"filter": "datum.p === 'E'"}],
       "mark": {"type": "text", "align": "center", "baseline": "middle", "font": "Open Sans", "fontSize": 21, "color": "#111"},
       "encoding": {"x": {"field": "x", "type": "quantitative"}, "y": {"field": "y", "type": "quantitative"}, "text": {"field": "t"}}},
      {"data": {"name": "eq"}, "transform": [{"filter": "datum.p === 'E'"}],
       "mark": {"type": "text", "align": "left", "baseline": "middle", "font": "Open Sans", "fontSize": 23, "color": "#111"},
       "encoding": {"x": {"field": "x", "type": "quantitative"}, "y": {"field": "y", "type": "quantitative"}, "text": {"field": "t"}}},
      {"data": {"name": "fbar"}, "transform": [{"filter": "datum.p === 'E'"}],
       "mark": {"type": "rule", "strokeWidth": 2, "color": "#111"},
       "encoding": {"x": {"field": "x", "type": "quantitative"}, "x2": {"field": "x2"}, "y": {"field": "y", "type": "quantitative"}}}
     ]}
  ]},
  {"spacing": 77, "hconcat": [
    {"width": 506, "height": 354, "title": {"text": "Sample Subject F"},
     "layer": [
      {"data": {"name": "pts"}, "transform": [{"filter": "datum.p === 'F'"}],
       "mark": {"type": "point", "filled": false, "size": 32, "strokeWidth": 1.8, "opacity": 1},
       "encoding": {
        "x": {"field": "x", "type": "quantitative", "scale": {"domain": [-25, 25], "nice": false, "zero": false}, "axis": {"values": [-20, -10, 0, 10, 20], "labelExpr": "datum.value + '°'", "title": "Object motion FOE"}},
        "y": {"field": "y", "type": "quantitative", "scale": {"domain": [-35, 35], "nice": false, "zero": false}, "axis": {"values": [-30, -20, -10, 0, 10, 20, 30], "labelExpr": "datum.value + '°'", "title": "Heading estimate"}},
        "color": {"field": "g", "type": "nominal", "scale": {"domain": ["lo","ro","lb","rb","fl","fr"], "range": ["#F4A11B","#A3191C","#4A96DA","#2C2A80","#9E1B1E","#2E2C7C"]}, "legend": null}}},
      {"data": {"name": "fits"}, "transform": [{"filter": "datum.p === 'F'"}],
       "mark": {"type": "rule", "strokeDash": [9, 5], "strokeWidth": 2.7},
       "encoding": {"x": {"field": "x", "type": "quantitative"}, "x2": {"field": "x2"}, "y": {"field": "y", "type": "quantitative"}, "y2": {"field": "y2"},
        "color": {"field": "g", "type": "nominal", "scale": {"domain": ["lo","ro","lb","rb","fl","fr"], "range": ["#F4A11B","#A3191C","#4A96DA","#2C2A80","#9E1B1E","#2E2C7C"]}, "legend": null}}},
      {"data": {"name": "frac"}, "transform": [{"filter": "datum.p === 'F'"}],
       "mark": {"type": "text", "align": "center", "baseline": "middle", "font": "Open Sans", "fontSize": 21, "color": "#111"},
       "encoding": {"x": {"field": "x", "type": "quantitative"}, "y": {"field": "y", "type": "quantitative"}, "text": {"field": "t"}}},
      {"data": {"name": "eq"}, "transform": [{"filter": "datum.p === 'F'"}],
       "mark": {"type": "text", "align": "left", "baseline": "middle", "font": "Open Sans", "fontSize": 23, "color": "#111"},
       "encoding": {"x": {"field": "x", "type": "quantitative"}, "y": {"field": "y", "type": "quantitative"}, "text": {"field": "t"}}},
      {"data": {"name": "fbar"}, "transform": [{"filter": "datum.p === 'F'"}],
       "mark": {"type": "rule", "strokeWidth": 2, "color": "#111"},
       "encoding": {"x": {"field": "x", "type": "quantitative"}, "x2": {"field": "x2"}, "y": {"field": "y", "type": "quantitative"}}},
      {"data": {"name": "legbox"},
       "mark": {"type": "rect", "fill": "white", "stroke": "#111", "strokeWidth": 2.6},
       "encoding": {"x": {"field": "x", "type": "quantitative"}, "x2": {"field": "x2"}, "y": {"field": "y", "type": "quantitative"}, "y2": {"field": "y2"}}},
      {"data": {"name": "legtext"},
       "mark": {"type": "text", "align": "left", "baseline": "middle", "font": "Open Sans", "fontSize": 23, "color": "#111"},
       "encoding": {"x": {"field": "x", "type": "quantitative"}, "y": {"field": "y", "type": "quantitative"}, "text": {"field": "t"}}},
      {"data": {"name": "legsym"},
       "mark": {"type": "point", "filled": false, "size": 60, "strokeWidth": 2.6, "opacity": 1},
       "encoding": {"x": {"field": "x", "type": "quantitative"}, "y": {"field": "y", "type": "quantitative"},
        "color": {"field": "g", "type": "nominal", "scale": {"domain": ["lo","ro","lb","rb","fl","fr"], "range": ["#F4A11B","#A3191C","#4A96DA","#2C2A80","#9E1B1E","#2E2C7C"]}, "legend": null}}}
     ]},
    {"width": 292, "height": 353, "title": {"text": "Mean ΔPSE/ΔH", "anchor": "start", "dx": -28},
     "layer": [
      {"data": {"name": "bax"},
       "mark": {"type": "rule", "strokeWidth": 2.4, "color": "#2b2727"},
       "encoding": {
        "x": {"field": "x", "type": "quantitative", "scale": {"domain": [0, 2], "nice": false, "zero": false}, "axis": null},
        "x2": {"field": "x2"},
        "y": {"field": "y", "type": "quantitative", "scale": {"domain": [0, 0.2715], "nice": false, "zero": false}, "axis": {"values": [0, 0.1, 0.2], "domain": false, "tickWidth": 2.4, "labelFont": "Liberation Sans", "labelFontSize": 25, "labelColor": "#555555", "labelPadding": 31, "title": "", "labelExpr": "datum.value === 0 ? '0' : format(datum.value, '.1f')"}},
        "y2": {"field": "y2"}}},
      {"data": {"name": "bar"},
       "mark": {"type": "rect", "fill": "#9d9d9d", "stroke": "#505050", "strokeWidth": 1.5},
       "encoding": {"x": {"field": "x", "type": "quantitative"}, "x2": {"field": "x2"}, "y": {"field": "y", "type": "quantitative"}, "y2": {"field": "y2"}}},
      {"data": {"name": "err"},
       "mark": {"type": "rule", "strokeWidth": 3.6, "color": "#1a1a1a"},
       "encoding": {"x": {"field": "x", "type": "quantitative"}, "x2": {"field": "x2"}, "y": {"field": "y", "type": "quantitative"}, "y2": {"field": "y2"}}},
      {"data": {"name": "dash"},
       "mark": {"type": "rule", "strokeWidth": 3.4, "strokeDash": [8, 5], "color": "#111"},
       "encoding": {"x": {"field": "x", "type": "quantitative"}, "x2": {"field": "x2"}, "y": {"field": "y", "type": "quantitative"}, "y2": {"field": "y2"}}},
      {"data": {"name": "solid"},
       "mark": {"type": "rule", "strokeWidth": 2.5, "color": "#111"},
       "encoding": {"x": {"field": "x", "type": "quantitative"}, "x2": {"field": "x2"}, "y": {"field": "y", "type": "quantitative"}, "y2": {"field": "y2"}}},
      {"data": {"name": "heads"},
       "mark": {"type": "point", "filled": true, "size": 60, "opacity": 1, "color": "#111"},
       "encoding": {"x": {"field": "x", "type": "quantitative"}, "y": {"field": "y", "type": "quantitative"},
        "shape": {"field": "s", "type": "nominal", "scale": {"domain": ["l", "r"], "range": ["M1,-0.75L-1,0L1,0.75L0.5,0Z", "M-1,-0.75L1,0L-1,0.75L-0.5,0Z"]}, "legend": null}}},
      {"data": {"name": "dtextl"},
       "mark": {"type": "text", "align": "left", "baseline": "middle", "font": "Open Sans", "fontSize": 15, "color": "#111"},
       "encoding": {"x": {"field": "x", "type": "quantitative"}, "y": {"field": "y", "type": "quantitative"}, "text": {"field": "t"}}},
      {"data": {"name": "dtextc"},
       "mark": {"type": "text", "align": "center", "baseline": "middle", "font": "Open Sans", "fontSize": 19, "color": "#111"},
       "encoding": {"x": {"field": "x", "type": "quantitative"}, "y": {"field": "y", "type": "quantitative"}, "text": {"field": "t"}}},
      {"data": {"name": "dtextr"},
       "mark": {"type": "text", "align": "center", "baseline": "middle", "font": "Open Sans", "fontSize": 19, "angle": 308, "color": "#111"},
       "encoding": {"x": {"field": "x", "type": "quantitative"}, "y": {"field": "y", "type": "quantitative"}, "text": {"field": "t"}}}
     ]}
  ]}
]
}
